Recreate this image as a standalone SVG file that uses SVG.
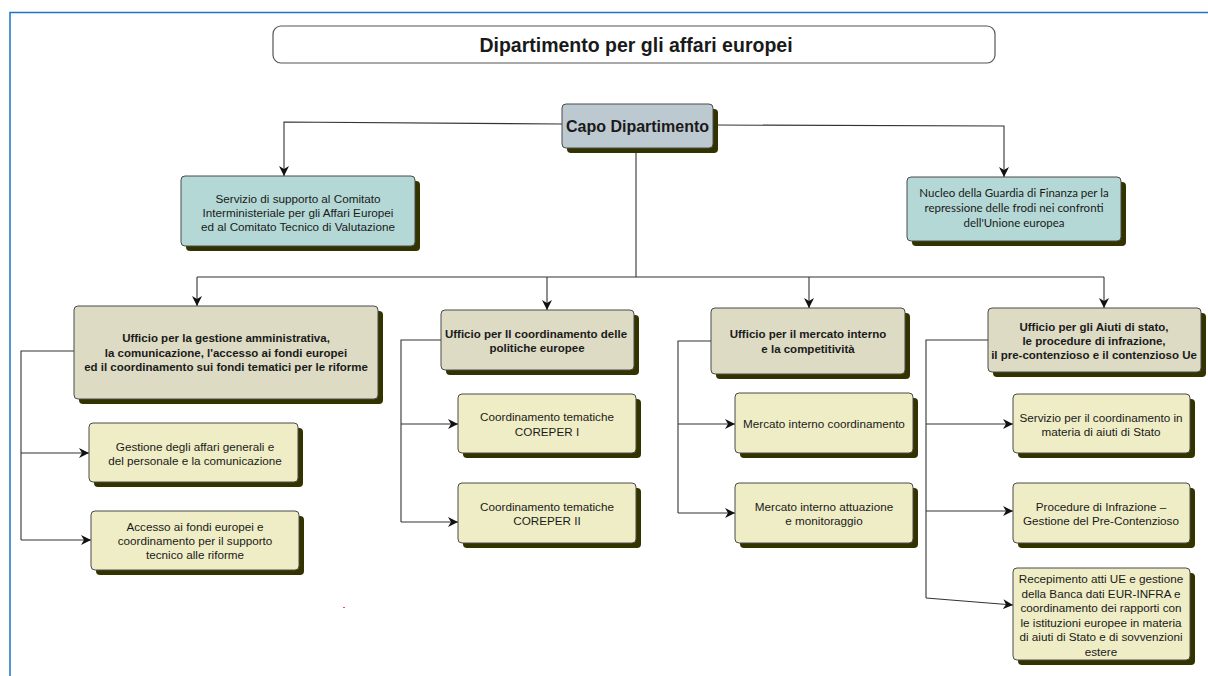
<svg xmlns="http://www.w3.org/2000/svg" width="1208" height="676" viewBox="0 0 1208 676">
  <defs>
    <marker id="arr" viewBox="0 0 10 10" refX="10" refY="5" markerWidth="10" markerHeight="10" markerUnits="userSpaceOnUse" orient="auto">
      <path d="M0,0 L10,5 L0,10 L3,5 Z" fill="#111"/>
    </marker>
    <style>
      .frame { stroke: #1a73c8; stroke-width: 1.5; fill: none; }
      .shadow { fill: #333300; }
      .box { stroke: #4a4a4a; stroke-width: 1; }
      .head { fill: #dddbc3; }
      .sub { fill: #efedc5; }
      .capo { fill: #bdc9d0; }
      .teal { fill: #b4d8d5; }
      .title { fill: #ffffff; stroke: #555; stroke-width: 1.2; }
      .conn { stroke: #333; stroke-width: 1.1; fill: none; }
      .conn.a { marker-end: url(#arr); }
      text { font-family: "Liberation Sans", Arial, sans-serif; fill: #1a1a1a; text-anchor: middle; }
      .t11 { font-size: 11.7px; }
      .b11 { font-size: 11.5px; font-weight: bold; }
      .lato { font-family: Lato, "Liberation Sans", sans-serif; font-size: 11.5px; }
    </style>
  </defs>

  <rect width="1208" height="676" fill="#ffffff"/>

  <!-- page frame -->
  <path class="frame" d="M10,676 L10,12.5 L1208,12.5"/>

  <!-- stray mark -->
  <rect x="343" y="607" width="2" height="1" fill="#e05050"/>

  <!-- connectors -->
  <g id="connectors">
    <path class="conn a" d="M562,124 L284,122 L284,176"/>
    <path class="conn a" d="M713,125 L1004,126 L1004,177"/>
    <path class="conn" d="M636,148 L636,277"/>
    <path class="conn" d="M197,277 L1104,277"/>
    <path class="conn a" d="M197,277 L197,306"/>
    <path class="conn a" d="M547,277 L547,310"/>
    <path class="conn a" d="M809,277 L809,308"/>
    <path class="conn a" d="M1104,277 L1104,308"/>

    <path class="conn" d="M74,351 L21,351 L21,540"/>
    <path class="conn a" d="M21,453 L89,453"/>
    <path class="conn a" d="M21,540 L91,540"/>

    <path class="conn" d="M441,340 L401,340 L401,522"/>
    <path class="conn a" d="M401,424 L458,424"/>
    <path class="conn a" d="M401,522 L458,522"/>

    <path class="conn" d="M711,341 L678,341 L678,513"/>
    <path class="conn a" d="M678,424 L735,424"/>
    <path class="conn a" d="M678,513 L735,513"/>

    <path class="conn" d="M988,340 L926,340 L926,598"/>
    <path class="conn a" d="M926,424 L1013,424"/>
    <path class="conn a" d="M926,511 L1013,511"/>
    <path class="conn a" d="M926,598 L1013,605"/>
  </g>

  <!-- title -->
  <g id="title">
    <rect class="title" x="273" y="26" width="722" height="37" rx="8"/>
    <text x="636" y="51.5" style="font-size:19.5px;font-weight:bold">Dipartimento per gli affari europei</text>
  </g>

  <g id="capo">
    <rect class="shadow" x="567" y="109" width="151" height="44" rx="4"/>
    <rect class="box capo" x="562" y="104" width="151" height="44" rx="4"/>
    <text x="637.5" y="132" style="font-size:16px;font-weight:bold">Capo Dipartimento</text>
  </g>

  <g id="servizio-comitato">
    <rect class="shadow" x="186" y="181" width="234" height="70" rx="4"/>
    <rect class="box teal" x="181" y="176" width="234" height="70" rx="4"/>
    <text class="t11" x="298" y="203">Servizio di supporto al Comitato</text>
    <text class="t11" x="298" y="217">Interministeriale per gli Affari Europei</text>
    <text class="t11" x="298" y="231">ed al Comitato Tecnico di Valutazione</text>
  </g>

  <g id="nucleo-gdf">
    <rect class="shadow" x="912" y="182" width="214" height="64" rx="4"/>
    <rect class="box teal" x="907" y="177" width="214" height="64" rx="4"/>
    <text class="lato" x="1014" y="197">Nucleo della Guardia di Finanza per la</text>
    <text class="lato" x="1014" y="212">repressione delle frodi nei confronti</text>
    <text class="lato" x="1014" y="227">dell'Unione europea</text>
  </g>

  <!-- ufficio 1 -->
  <g id="uff-gestione">
    <rect class="shadow" x="79" y="311" width="304" height="93" rx="4"/>
    <rect class="box head" x="74" y="306" width="304" height="93" rx="4"/>
    <text class="b11" x="226" y="342">Ufficio per la gestione amministrativa,</text>
    <text class="b11" x="226" y="357">la comunicazione, l'accesso ai fondi europei</text>
    <text class="b11" x="226" y="371">ed il coordinamento sui fondi tematici per le riforme</text>
  </g>
  <g id="affari-generali">
    <rect class="shadow" x="94" y="428" width="209" height="59" rx="4"/>
    <rect class="box sub" x="89" y="423" width="209" height="59" rx="4"/>
    <text class="t11" x="195" y="451">Gestione degli affari generali e</text>
    <text class="t11" x="195" y="465">del personale e la comunicazione</text>
  </g>
  <g id="accesso-fondi">
    <rect class="shadow" x="96" y="516" width="208" height="59" rx="4"/>
    <rect class="box sub" x="91" y="511" width="208" height="59" rx="4"/>
    <text class="t11" x="195" y="531">Accesso ai fondi europei e</text>
    <text class="t11" x="195" y="545">coordinamento per il supporto</text>
    <text class="t11" x="195" y="559">tecnico alle riforme</text>
  </g>

  <!-- ufficio 2 -->
  <g id="uff-politiche">
    <rect class="shadow" x="446" y="315" width="193" height="60" rx="4"/>
    <rect class="box head" x="441" y="310" width="193" height="60" rx="4"/>
    <text class="b11" x="536" y="338">Ufficio per Il coordinamento delle</text>
    <text class="b11" x="537" y="352">politiche europee</text>
  </g>
  <g id="coreper-1">
    <rect class="shadow" x="463" y="399" width="178" height="59" rx="4"/>
    <rect class="box sub" x="458" y="394" width="178" height="59" rx="4"/>
    <text class="t11" x="547" y="421">Coordinamento tematiche</text>
    <text class="t11" x="547" y="436">COREPER I</text>
  </g>
  <g id="coreper-2">
    <rect class="shadow" x="463" y="488" width="178" height="60" rx="4"/>
    <rect class="box sub" x="458" y="483" width="178" height="60" rx="4"/>
    <text class="t11" x="547" y="511">Coordinamento tematiche</text>
    <text class="t11" x="547" y="525">COREPER II</text>
  </g>

  <!-- ufficio 3 -->
  <g id="uff-mercato">
    <rect class="shadow" x="716" y="313" width="194" height="66" rx="4"/>
    <rect class="box head" x="711" y="308" width="194" height="66" rx="4"/>
    <text class="b11" x="808" y="338">Ufficio per il mercato interno</text>
    <text class="b11" x="808" y="353">e la competitività</text>
  </g>
  <g id="mercato-coord">
    <rect class="shadow" x="740" y="398" width="178" height="60" rx="4"/>
    <rect class="box sub" x="735" y="393" width="178" height="60" rx="4"/>
    <text class="t11" x="824" y="428">Mercato interno coordinamento</text>
  </g>
  <g id="mercato-attuazione">
    <rect class="shadow" x="740" y="488" width="178" height="60" rx="4"/>
    <rect class="box sub" x="735" y="483" width="178" height="60" rx="4"/>
    <text class="t11" x="824" y="511">Mercato interno attuazione</text>
    <text class="t11" x="824" y="525">e monitoraggio</text>
  </g>

  <!-- ufficio 4 -->
  <g id="uff-aiuti">
    <rect class="shadow" x="993" y="313" width="213" height="64" rx="4"/>
    <rect class="box head" x="988" y="308" width="213" height="64" rx="4"/>
    <text class="b11" x="1094" y="331">Ufficio per gli Aiuti di stato,</text>
    <text class="b11" x="1094" y="345">le procedure di infrazione,</text>
    <text class="b11" x="1094" y="359">il pre-contenzioso e il contenzioso Ue</text>
  </g>
  <g id="aiuti-coord">
    <rect class="shadow" x="1018" y="399" width="177" height="59" rx="4"/>
    <rect class="box sub" x="1013" y="394" width="177" height="59" rx="4"/>
    <text class="t11" x="1101" y="422">Servizio per il coordinamento in</text>
    <text class="t11" x="1101" y="436">materia di aiuti di Stato</text>
  </g>
  <g id="infrazione">
    <rect class="shadow" x="1018" y="488" width="177" height="60" rx="4"/>
    <rect class="box sub" x="1013" y="483" width="177" height="60" rx="4"/>
    <text class="t11" x="1101" y="511">Procedure di Infrazione –</text>
    <text class="t11" x="1101" y="525">Gestione del Pre-Contenzioso</text>
  </g>
  <g id="recepimento">
    <rect class="shadow" x="1018" y="573" width="177" height="92" rx="4"/>
    <rect class="box sub" x="1013" y="568" width="177" height="92" rx="4"/>
    <text class="t11" x="1101" y="583">Recepimento atti UE e gestione</text>
    <text class="t11" x="1101" y="597.6">della Banca dati EUR-INFRA e</text>
    <text class="t11" x="1101" y="612.2">coordinamento dei rapporti con</text>
    <text class="t11" x="1101" y="626.8">le istituzioni europee in materia</text>
    <text class="t11" x="1101" y="641.4">di aiuti di Stato e di sovvenzioni</text>
    <text class="t11" x="1101" y="656">estere</text>
  </g>
</svg>
